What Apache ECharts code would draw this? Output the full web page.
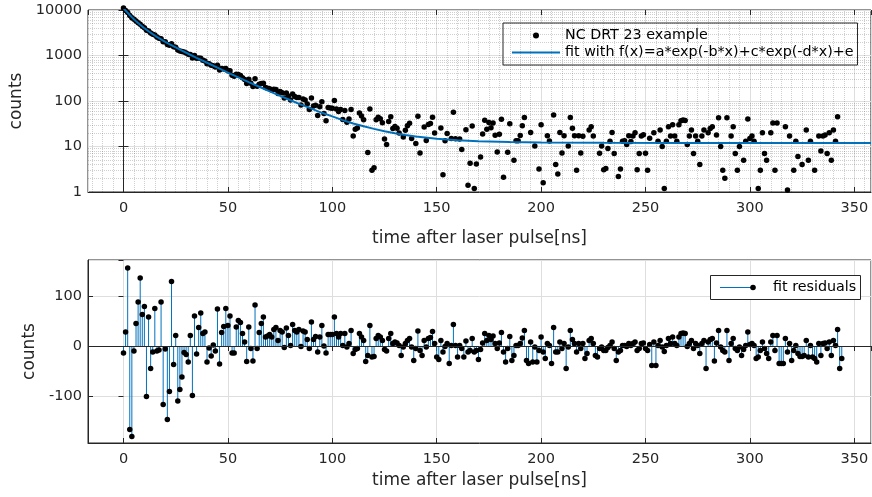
<!DOCTYPE html>
<html>
<head>
<meta charset="utf-8">
<title>NC DRT 23 example</title>
<script src="https://cdn.jsdelivr.net/npm/echarts@6/dist/echarts.min.js"></script>
<style>
html, body { margin: 0; padding: 0; background: #fff; }
#chart { width: 872px; height: 497px; }
</style>
</head>
<body>
<div id="chart"></div>
<script>
// one sample per ns, starting at 0 ns
var sampleStep = 1;

// measured counts (null = zero or negative, not drawn on the log axis)
var counts = [
  10998, 9783, 8836, 7594, 6788, 6275, 5739, 5266, 4866, 4398, 4067, 3580, 3466, 3119, 2933, 2823, 2560, 2400, 2348, 2008,
  1993, 1738, 1687, 1809, 1552, 1525, 1314, 1262, 1217, 1200, 1134, 1060, 1058, 886, 996, 874, 883, 870, 790, 755,
  661, 655, 607, 599, 558, 614, 478, 517, 506, 519,
  463, 462, 369, 351, 386, 383, 363, 326, 295, 243, 299, 244, 207, 308, 211, 233, 242, 246, 197, 191,
  186, 174, 182, 179, 147, 161, 152, 116, 149, 129, 105, 142, 126, 119, 120, 82, 110, 105, 86, 65,
  116, 78, 81, 48, 75, 96, 53, 37, 72, 70, 69, 102, 67,
  59, 65, 39, 62, 34, 40, 65, 17, 24, 25.5, 54.6, 46.7, 38.9, null, 7.4, 66.7, 3, 3.4, 38.8, 44.2,
  40.6, 33.1, 14.6, 11.1, 35.6, 45.2, 24.8, 27.5, 25.1, 19.8, null, 16.1, 22.8, 28.5, 32.3, 15, null, 11.6, 46.4, 7.2,
  null, 26.7, 13.5, 30.4, 32.2, 44.1, 19.9, null, null, 25.5, 2.4, 13.3, 19.2, null, 15, 56.9, 14.8, null,
  14.6, 8.6, null, 23.4, 1.4, 4.3, 28.2, 1.2, 4.1, null, 5.9, 18.9, 37.9, 23.8, 33.8, 25.8, 32.7, 17.7, 7.6, 18.6,
  39.6, 2.1, null, 7.5, 31.5, null, 5, 13.4, 13.4, 17.4, 28.4, 43.4, null, null, 20.3, null, 10.3, null, 3.2, 30.2,
  1.6, null, 17.2, 13.2, null, 49.2, 4, 2.5, 20.2, 7.2, 17.2, null, 10.2, 43.2, 25.2, 17.2, 3, 17.2,
  7.2, 16.8, null, null, 23.1, 27.3, 17.1, null, null, 7.1, 10.2, 3.1, 3.3, 9.0, 13.1, 20.2, 7.0, null, 2.2, 3.2,
  13.0, 13.3, 11.1, 17.2, 12.8, 17.0, 20.1, 3.1, 7.0, 17.1, 18.2, 7.1, 3.0, 15.1, null, 20.0, null, 13.1, 23.0, 10.0,
  1.2, 13.0, 27.1, 17.0, 30.0, 17.1, 13.0, 30.1, 37.0, 38.0, 37.1, 11.0, 17.0, 23.1, 7.0, 17.0,
  13, 4, 17, 23, null, 20, 25, 27, null, 18, 43, 10, 3, 2, 43, null, 17, 27, 7, 3,
  10, null, 5, 13, 40, 15, 17, 13, null, 1.2, 3, 20, 7, 5, null, 20, 33, 3, 33, null,
  null, null, 27, 1.1, 17, null, 3, 13, 6, null, 4, null, 23, 5, 13, null, 3, null, 17, 8,
  17, 18, 7, 20, 5,
  23, 13, 45, null, null
];

// fit residuals (counts)
var residuals = [
  -14, 28, 156, -167, -181, -10, 45, 88, 136, 63, 79, -101, 58, -45, -12, 75, -10, -8, 88, -117,
  -6, -147, -91, 129, -37, 21, -110, -87, -62, -13, -17, -32, 21, -99, 60, -16, 37, 66, 25, 28,
  -32, -4, -20, 2, -10, 74, -36, 27, 39, 75,
  41, 60, -14, -14, 38, 51, 47, 25, 8, -31, 38, -5, -30, 82, -5, 27, 45, 58, 18, 20,
  23, 18, 33, 37, 11, 31, 28, -3, 36, 21, 1, 43, 31, 28, 33, -1, 30, 28, 13, -5,
  48, 13, 19, -12, 18, 41, 0, -14, 23, 23, 23, 58, 25,
  18, 25, 1, 25, -2, 5, 31, -15, -7, -5, 25, 18, 11, -31, -19, 41, -22, -21, 15, 21,
  18, 11, -7, -10, 15, 25, 5, 8, 6, 1, -19, -2, 5, 11, 15, -2, -29, -5, 30, -9,
  -19, 11, -2, 15, 17, 29, 5, -22, -27, 11, -12, -1, 5, -35, 1, 43, 1, -22,
  1, -5, -22, 10, -12, -9, 15, -12, -9, -27, -7, 6, 25, 11, 21, 13, 20, 5, -5, 6,
  27, -12, -32, -5, 19, -29, -19, 1, 1, 5, 16, 31, -29, -35, 8, -32, -2, -32, -9, 18,
  -12, -25, 5, 1, -35, 37, -12, -12, 8, -5, 5, -45, -2, 31, 13, 5, -12, 5,
  -5, 5, -25, -15, 11, 15, 5, -19, -22, -5, -2, -9, -9, -3, 1, 8, -5, -29, -12, -9,
  1, 1, -1, 5, 1, 5, 8, -9, -5, 5, 6, -5, -9, 3, -39, 8, -39, 1, 11, -2,
  -11, 1, 15, 5, 18, 5, 1, 18, 25, 26, 25, -1, 5, 11, -5, 5,
  1, -15, 5, 11, -45, 8, 13, 15, -30, 6, 31, -2, -9, -12, 31, -29, 5, 15, -5, -9,
  -2, -19, -7, 1, 28, 3, 5, 1, -25, -22, -9, 8, -5, -15, -25, 8, 21, -9, 21, -35,
  -35, -35, 15, -12, 5, -29, -9, 1, -15, -21, -21, -19, 11, -22, 1, -22, -25, -32, 5, -19,
  5, 6, -5, 8, -19,
  11, 1, 33, -45, -25
];

// fitted curve f(x)=a*exp(-b*x)+c*exp(-d*x)+e, read at these times
var fitTime = [0, 1, 2, 3, 4, 5, 6, 7, 8, 10, 12, 14, 16, 18, 20, 22, 25, 28, 31, 35, 40, 45, 50, 55, 60,
  65, 70, 75, 80, 85, 90, 95, 100, 105, 110, 115, 120, 125, 130, 135, 140, 150, 160, 170, 185, 200, 230, 270, 320, 358];
var fitCounts = [11012, 9755, 8680, 7761, 6969, 6285, 5694, 5178, 4730, 3988, 3408, 2945, 2570, 2260, 1999, 1778, 1504, 1279, 1092, 890, 693, 540, 422, 332, 261,
  206, 163, 130, 104, 83, 68, 55, 46, 38, 32, 27.9, 24.4, 21.6, 19.5, 17.8, 16.6, 14.8, 13.7, 13.0, 12.5, 12.2, 12.05, 12.0, 12.0, 12.0];

var dataName = 'NC DRT 23 example';
var fitName = 'fit with f(x)=a*exp(-b*x)+c*exp(-d*x)+e';

var axisColor = '#262626';
var gridColor = '#dedede';
var minorColor = 'rgba(38,38,38,0.22)';
var font = 'DejaVu Sans';
var xMin = -17, xMax = 358;

var times = residuals.map(function (r, i) { return i * sampleStep; });
var countPoints = [];
counts.forEach(function (c, i) { if (c != null) countPoints.push([times[i], c]); });
var residualPoints = residuals.map(function (r, i) { return [times[i], r]; });
var fitPoints = fitTime.map(function (t, i) { return [t, fitCounts[i]]; });

// dotted minor grid of the upper panel
var minorLines = [];
for (var v = -15; v < xMax; v += 5) {
  if (v % 50 !== 0) minorLines.push({ xAxis: v });
}
[1, 10, 100, 1000].forEach(function (d) {
  for (var k = 2; k <= 9; k++) minorLines.push({ yAxis: d * k });
});

function tickLabel(v) { return String(v); }

function mainX(gridIndex, nameGap) {
  return {
    type: 'value', gridIndex: gridIndex, min: xMin, max: xMax,
    splitNumber: 7, minInterval: 50, maxInterval: 50,
    name: 'time after laser pulse[ns]', nameLocation: 'middle', nameGap: nameGap,
    nameTextStyle: { fontFamily: font, fontSize: 17, color: axisColor },
    axisLine: { onZero: false, lineStyle: { color: axisColor } },
    axisTick: { inside: true, length: 5, lineStyle: { color: axisColor } },
    axisLabel: { margin: 9, fontFamily: font, fontSize: 14.5, color: axisColor,
      showMinLabel: false, showMaxLabel: false, formatter: tickLabel },
    splitLine: { show: true, lineStyle: { color: gridColor } }
  };
}
function mirrorX(gridIndex) {
  return {
    type: 'value', gridIndex: gridIndex, position: 'top', min: xMin, max: xMax,
    splitNumber: 7, minInterval: 50, maxInterval: 50,
    axisLine: { show: false }, axisLabel: { show: false }, splitLine: { show: false },
    axisTick: { inside: true, length: 5, lineStyle: { color: axisColor } }
  };
}

var chart = echarts.init(document.getElementById('chart'), null, { renderer: 'canvas' });
chart.setOption({
  animation: false,
  backgroundColor: '#fff',
  grid: [
    { left: 88, top: 10, width: 783, height: 182, show: true, borderColor: axisColor, borderWidth: 1, outerBoundsMode: 'none' },
    { left: 88, top: 260, width: 783, height: 183, show: true, borderColor: axisColor, borderWidth: 1, outerBoundsMode: 'none' }
  ],
  xAxis: [mainX(0, 38), mirrorX(0), mainX(1, 29), mirrorX(1)],
  yAxis: [
    {
      type: 'log', logBase: 10, gridIndex: 0, min: 1, max: 10000,
      name: 'counts', nameLocation: 'middle', nameGap: 56,
      nameTextStyle: { fontFamily: font, fontSize: 17, color: axisColor },
      axisLine: { lineStyle: { color: axisColor } },
      axisTick: { inside: true, length: 5, lineStyle: { color: axisColor } },
      axisLabel: { margin: 6, fontFamily: font, fontSize: 14.5, color: axisColor, formatter: tickLabel },
      splitLine: { show: true, lineStyle: { color: gridColor } }
    },
    {
      type: 'log', logBase: 10, gridIndex: 0, position: 'right', min: 1, max: 10000,
      axisLine: { show: false }, axisLabel: { show: false }, splitLine: { show: false },
      axisTick: { inside: true, length: 5, lineStyle: { color: axisColor } }
    },
    {
      type: 'value', gridIndex: 1, min: -194, max: 172,
      splitNumber: 4, minInterval: 100, maxInterval: 100,
      name: 'counts', nameLocation: 'middle', nameGap: 40,
      nameTextStyle: { fontFamily: font, fontSize: 17, color: axisColor },
      axisLine: { onZero: false, lineStyle: { color: axisColor } },
      axisTick: { inside: true, length: 5, lineStyle: { color: axisColor } },
      axisLabel: { margin: 6, fontFamily: font, fontSize: 14.5, color: axisColor,
        showMinLabel: false, showMaxLabel: false, formatter: tickLabel },
      splitLine: { show: true, lineStyle: { color: gridColor } }
    },
    {
      type: 'value', gridIndex: 1, position: 'right', min: -194, max: 172,
      splitNumber: 4, minInterval: 100, maxInterval: 100,
      axisLine: { show: false }, axisLabel: { show: false }, splitLine: { show: false },
      axisTick: { inside: true, length: 5, lineStyle: { color: axisColor } }
    }
  ],
  legend: {
    data: [
      { name: dataName, icon: 'circle' },
      { name: fitName, icon: 'path://M0,0h48v2h-48z' }
    ],
    orient: 'vertical', left: 503, top: 23,
    padding: [4, 4, 4, 9], itemGap: 0, itemWidth: 48, itemHeight: 6,
    backgroundColor: '#fff', borderColor: axisColor, borderWidth: 1, borderRadius: 0,
    textStyle: { fontFamily: font, fontSize: 14.3, color: '#000', lineHeight: 17 },
    selectedMode: false
  },
  graphic: [
    { type: 'rect', z: 100, shape: { x: 710.5, y: 275.5, width: 150, height: 24 },
      style: { fill: '#fff', stroke: axisColor, lineWidth: 1 } },
    { type: 'line', z: 101, shape: { x1: 720, y1: 287.5, x2: 753, y2: 287.5 },
      style: { stroke: '#0072BD', lineWidth: 1 } },
    { type: 'circle', z: 102, shape: { cx: 753, cy: 287.5, r: 2.8 }, style: { fill: '#000' } },
    { type: 'text', z: 102, x: 773, y: 287.5,
      style: { text: 'fit residuals', fontFamily: font, fontSize: 14.3, fill: '#000', verticalAlign: 'middle' } }
  ],
  series: [
    {
      name: 'minor grid', type: 'line', xAxisIndex: 0, yAxisIndex: 0, data: [], silent: true, z: 1,
      markLine: {
        silent: true, symbol: ['none', 'none'], label: { show: false },
        lineStyle: { type: 'dotted', color: minorColor, width: 1 },
        emphasis: { disabled: true },
        data: minorLines
      }
    },
    {
      name: dataName, type: 'scatter', xAxisIndex: 0, yAxisIndex: 0, clip: false, z: 3,
      symbol: 'circle', symbolSize: 5.5, itemStyle: { color: '#000', opacity: 1 },
      data: countPoints
    },
    {
      name: fitName, type: 'line', xAxisIndex: 0, yAxisIndex: 0, z: 4,
      symbol: 'none', lineStyle: { color: '#0072BD', width: 2 }, itemStyle: { color: '#0072BD' },
      data: fitPoints
    },
    {
      name: 'fit residuals', type: 'bar', xAxisIndex: 2, yAxisIndex: 2, barWidth: 1, z: 2,
      itemStyle: { color: '#0072BD', opacity: 1 },
      markLine: {
        silent: true, symbol: ['none', 'none'], label: { show: false },
        lineStyle: { type: 'solid', color: axisColor, width: 1 },
        data: [{ yAxis: 0 }]
      },
      data: residualPoints
    },
    {
      name: 'residual markers', type: 'scatter', xAxisIndex: 2, yAxisIndex: 2, clip: false, z: 3,
      symbol: 'circle', symbolSize: 5.5, itemStyle: { color: '#000', opacity: 1 },
      data: residualPoints
    }
  ]
});
</script>
</body>
</html>
